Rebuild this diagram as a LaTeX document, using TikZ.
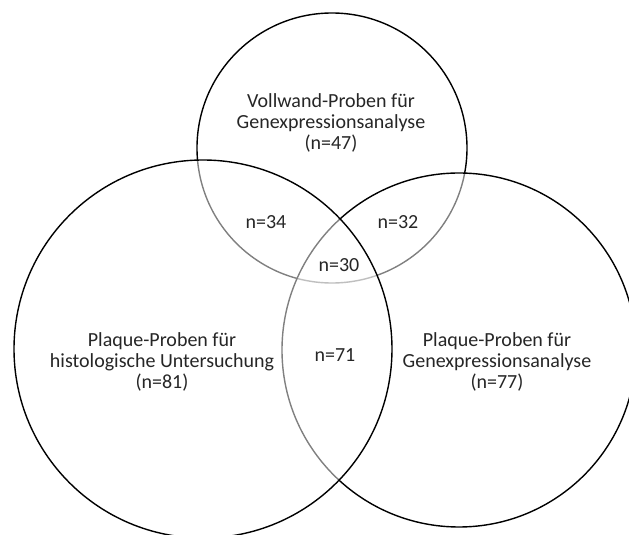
\documentclass[tikz,border=0pt]{standalone}
\usepackage{fontspec}
\setmainfont{Carlito}
\usetikzlibrary{positioning}

\tikzset{
  set/.style={draw=black,line width=0.7pt,circle,inner sep=0pt,fill=white,fill opacity=0.5},
  setlabel/.style={align=center,text=black!85,font=\fontsize{10}{10.5}\selectfont},
  count/.style={text=black!85,font=\fontsize{10}{10.5}\selectfont}
}

\begin{document}
\begin{tikzpicture}[x=0.5pt,y=-0.5pt]
    \useasboundingbox (0,0) rectangle (629,535);
    % the three sample sets
    \node[set,minimum size=270pt*0.5] (wall) at (332,148) {};
    \node[set,minimum size=354pt*0.5] (plaqueexpr) at (459,350) {};
    \node[set,minimum size=378pt*0.5] (plaquehist) at (203,349) {};
    % set labels
    \node[setlabel] (walllabel) at (331,123) {Vollwand-Proben für\\Genexpressionsanalyse\\(n=47)};
    \node[setlabel] (histlabel) at (162,362) {Plaque-Proben für\\histologische Untersuchung\\(n=81)};
    \node[setlabel] (exprlabel) at (497,362) {Plaque-Proben für\\Genexpressionsanalyse\\(n=77)};
    % overlaps
    \node[count] (n34) at (266,222) {n=34};
    \node[count] (n32) at (398,222) {n=32};
    \node[count] (n30) at (339,265) {n=30};
    \node[count] (n71) at (335,355) {n=71};
  \end{tikzpicture}
\end{document}
